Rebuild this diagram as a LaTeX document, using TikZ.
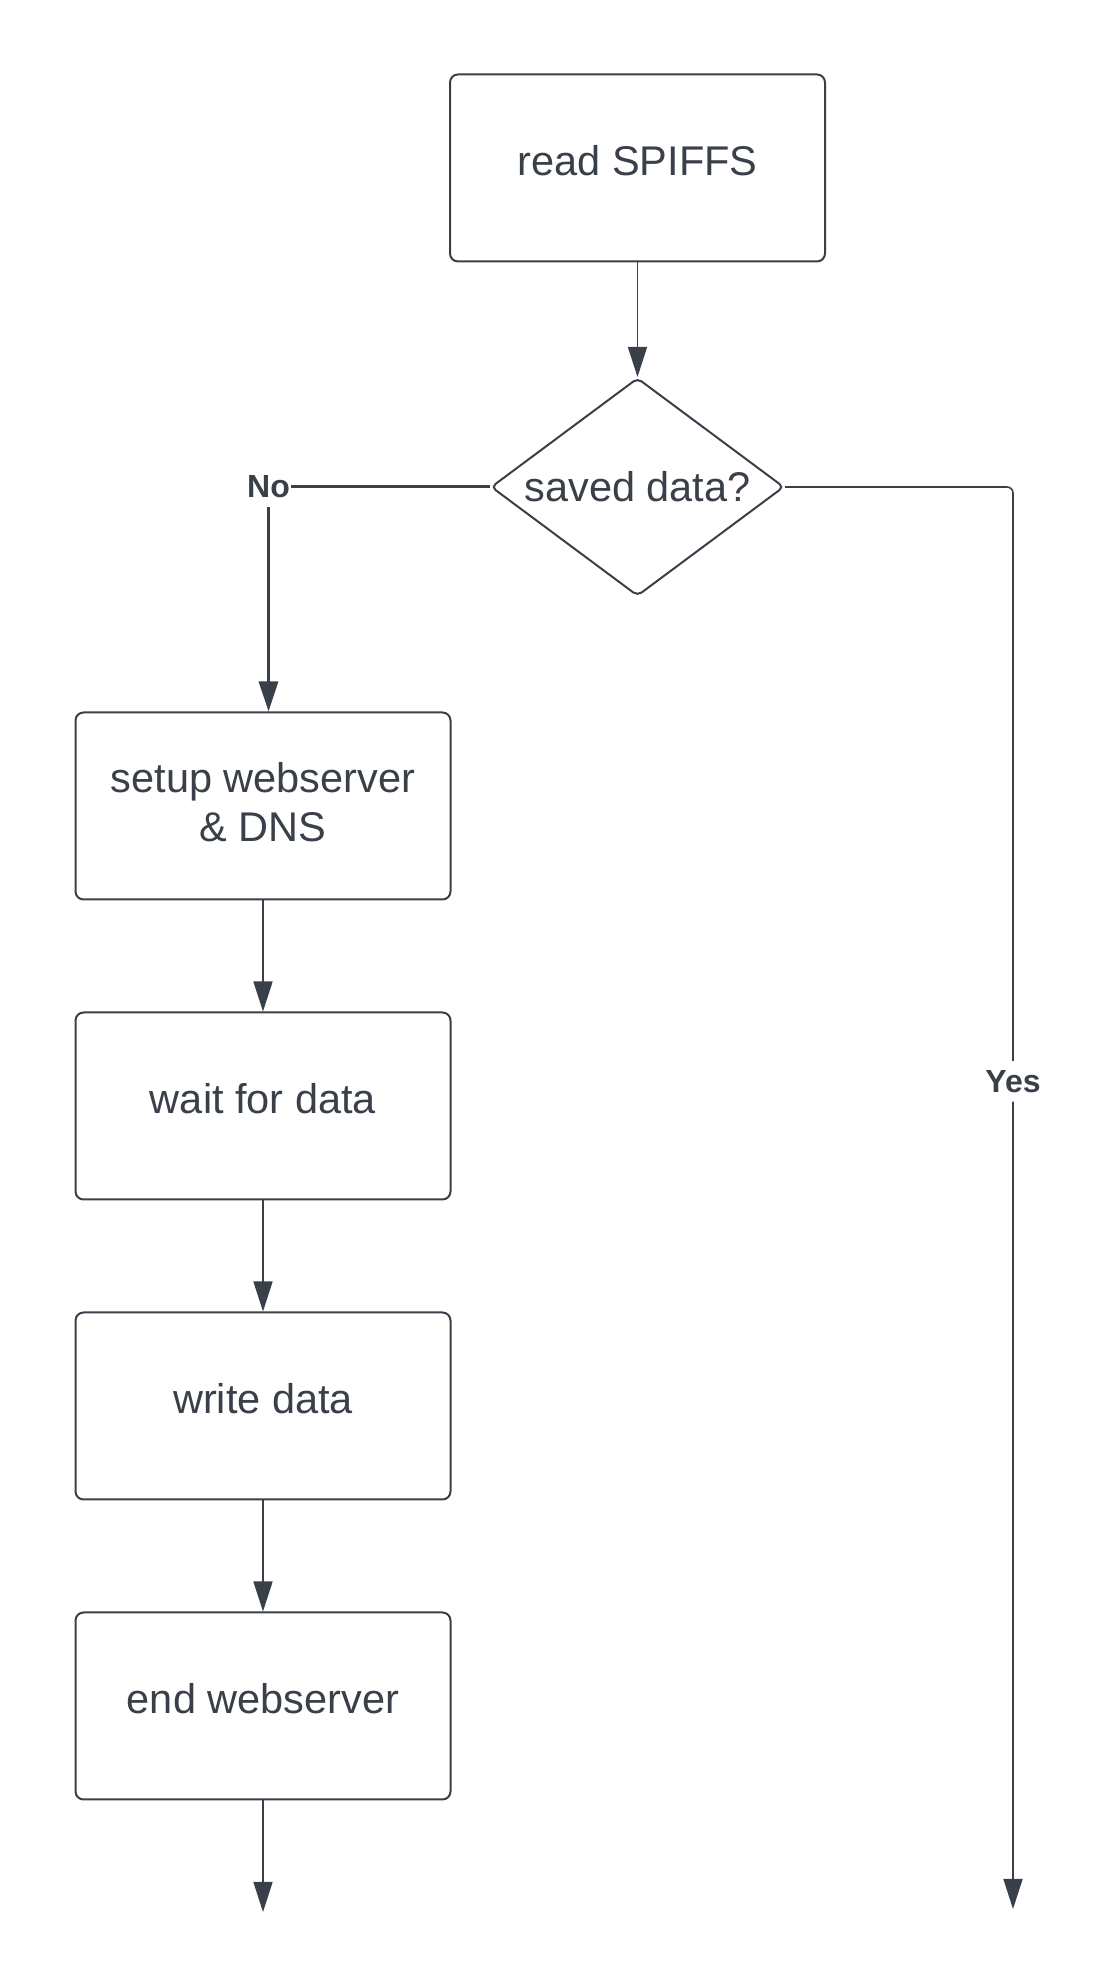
\documentclass[tikz,border=0pt]{standalone}
\usepackage{fontspec}
\setmainfont{Liberation Sans}
\usetikzlibrary{positioning,shapes.geometric,arrows.meta}
\definecolor{ink}{HTML}{3A4049}
\tikzset{
block/.style = {draw=ink, text=ink, line width=2pt, rectangle, rounded corners=8pt, align=center,
  minimum width=375pt, minimum height=187pt, font=\fontsize{41.5}{49}\selectfont,
  text height=30pt, text depth=14pt},
decision/.style = {draw=ink, text=ink, line width=2pt, diamond, aspect=1.34, inner sep=0pt, rounded corners=5pt,
  minimum width=293pt, minimum height=218pt, font=\fontsize{41.5}{49}\selectfont},
lbl/.style = {fill=white, text=ink, inner xsep=1pt, inner ysep=9pt, font=\fontsize{32}{36}\selectfont\bfseries},
line/.style = {draw=ink, line width=1.6pt},
heavy/.style = {draw=ink, line width=3pt}
}

\begin{document}
\begin{tikzpicture}[x=1pt, y=1pt, >={Triangle[width=19pt,length=30pt]}, node distance=300pt]
    \useasboundingbox[fill=white] (0,0) rectangle (1116,1988);

    \node  [block] (read) at (637.5,1820) {read SPIFFS};
    \node  [decision, below of=read, node distance=319pt] (dec) {saved data?};

    \node  [block, below of=dec, node distance=319pt, xshift=-374.5pt, text height={}, text depth=9pt] (setup)
      {setup webserver\\\& DNS};
    \node  [block, below of=setup] (wait) {wait for data};
    \node  [block, below of=wait] (write) {write data};
    \node  [block, below of=write] (endw) {end webserver};

    \coordinate [below of=endw, node distance=206pt] (endout);
    \coordinate [right of=endout, node distance=750pt, yshift=3pt] (yesout);

    \draw[->, line]  (read) -- (dec);

    % no branch
    \node  [lbl, xshift=5.5pt] (no) at (setup.north |- dec.west) {No};
    \draw[heavy]  (dec.west) -- (no);
    \draw[->, heavy]  (no) -- (no |- setup.north);

    \draw[->, line]  (setup) -- (wait);
    \draw[->, line]  (wait) -- (write);
    \draw[->, line]  (write) -- (endw);
    \draw[->, line]  (endw) -- (endout);

    % yes branch
    \draw[->, line, rounded corners=6pt] (dec.east) -| node[lbl, pos=0.709]{Yes} (yesout);

\end{tikzpicture}
\end{document}
